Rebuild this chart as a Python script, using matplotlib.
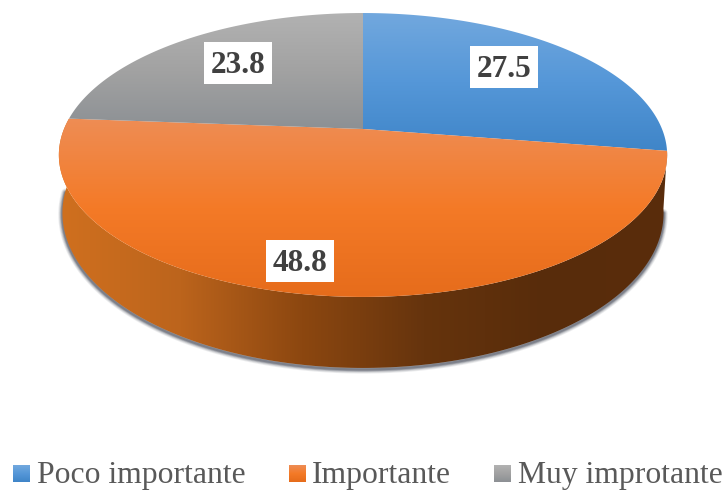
import numpy as np
import matplotlib
matplotlib.use("Agg")
import matplotlib.pyplot as plt
from matplotlib.colors import LinearSegmentedColormap
from matplotlib.patches import Polygon, Rectangle

categories = ["Poco importante", "Importante", "Muy improtante"]
values = [27.5, 48.8, 23.8]

# Vertical shading of each slice: (position from 0 to 1, colour)
top_shades = [
    ["#72A8DE", "#5597D8", "#3F85C8"],
    ["#EE8D55", "#F47A27", "#E66C1B"],
    ["#B2B2B2", "#A2A2A2", "#8C9094"],
]
rim_shades = ["#D0701F", "#BC641C", "#8C4710", "#66340D", "#582C0B", "#5A2D0C"]

fig = plt.figure(figsize=(7.26, 4.9), dpi=100)
ax = fig.add_axes([0, 0, 1, 1])
ax.set_xlim(0, 726)
ax.set_ylim(490, 0)
ax.axis("off")

CX = 363
PERSP = 0.183


def disk_point(theta, y0, half_w, half_h):
    """Project an angle (clockwise from 12 o'clock) on to a tilted disk."""
    w = 1 + PERSP * np.cos(theta)
    return CX + half_w * np.sin(theta) / w, y0 - half_h * np.cos(theta) / w


def arc(t0, t1, y0, half_w, half_h, n=200):
    x, y = disk_point(np.linspace(t0, t1, n), y0, half_w, half_h)
    return np.column_stack([x, y])


def shaded(colors, extent, poly, z, horizontal=False):
    cmap = LinearSegmentedColormap.from_list("shade", colors)
    ramp = np.linspace(0, 1, 256)
    ramp = ramp[None, :] if horizontal else ramp[:, None]
    im = ax.imshow(ramp, cmap=cmap, extent=extent, aspect="auto", zorder=z,
                   interpolation="bilinear")
    patch = Polygon(poly, closed=True, transform=ax.transData, fc="none", ec="none")
    ax.add_patch(patch)
    im.set_clip_path(patch)


TOP = (129, 299, 137.2)
BOTTOM = (184.6, 295.5, 149.8)

edges = np.concatenate([[0], np.cumsum(values)]) / np.sum(values) * 2 * np.pi

# Soft drop shadow under the rim
rim_lower = arc(edges[1] + 0.02, edges[2] - 0.12, *BOTTOM)
for lw, alpha in zip([6.0, 4.8, 3.6, 2.6, 1.6], [0.10, 0.14, 0.2, 0.28, 0.36]):
    ax.plot(rim_lower[:, 0], rim_lower[:, 1] + 1.5, color="#4A4F5C", lw=lw,
            alpha=alpha, solid_capstyle="round", zorder=1)

# Rim of the front slice
rim_poly = np.vstack([arc(edges[1], edges[2], *BOTTOM),
                      arc(edges[2], edges[1], *TOP)])
shaded(rim_shades, (58, 668, 380, 100), rim_poly, 2, horizontal=True)

# Top face
ranges = [(13, 152), (117, 298), (13, 130)]
for (a, b), colors, (ytop, ybot) in zip(zip(edges[:-1], edges[1:]), top_shades, ranges):
    outline = arc(a, b, *TOP)
    apex = np.array([[CX, TOP[0]]])
    poly = np.vstack([apex, outline])
    shaded(colors, (50, 676, ybot, ytop), poly, 3)

# Value labels on white boxes
label_centers = [(504, 67), (300, 261), (238, 63)]
for value, (x, y) in zip(values, label_centers):
    ax.add_patch(Rectangle((x - 34, y - 21), 68, 42, fc="white", ec="none", zorder=4))
    ax.text(x, y + 2.5, f"{value}", family="Liberation Serif", weight="bold",
            fontsize=22.5, color="#404040", ha="center", va="center", zorder=5)

# Legend row
marker_left = [13, 289, 494]
text_left = [37, 312, 518]
for name, colors, mx, tx in zip(categories, top_shades, marker_left, text_left):
    cmap = LinearSegmentedColormap.from_list("key", colors)
    ax.imshow(np.linspace(0, 1, 64)[:, None], cmap=cmap, aspect="auto",
              extent=(mx, mx + 17, 482, 465), zorder=3)
    ax.text(tx, 483, name, family="Liberation Serif", fontsize=22.8,
            color="#595959", ha="left", va="baseline")

ax.set_xlim(0, 726)
ax.set_ylim(490, 0)
fig.savefig("out.png", dpi=100, facecolor="white")
